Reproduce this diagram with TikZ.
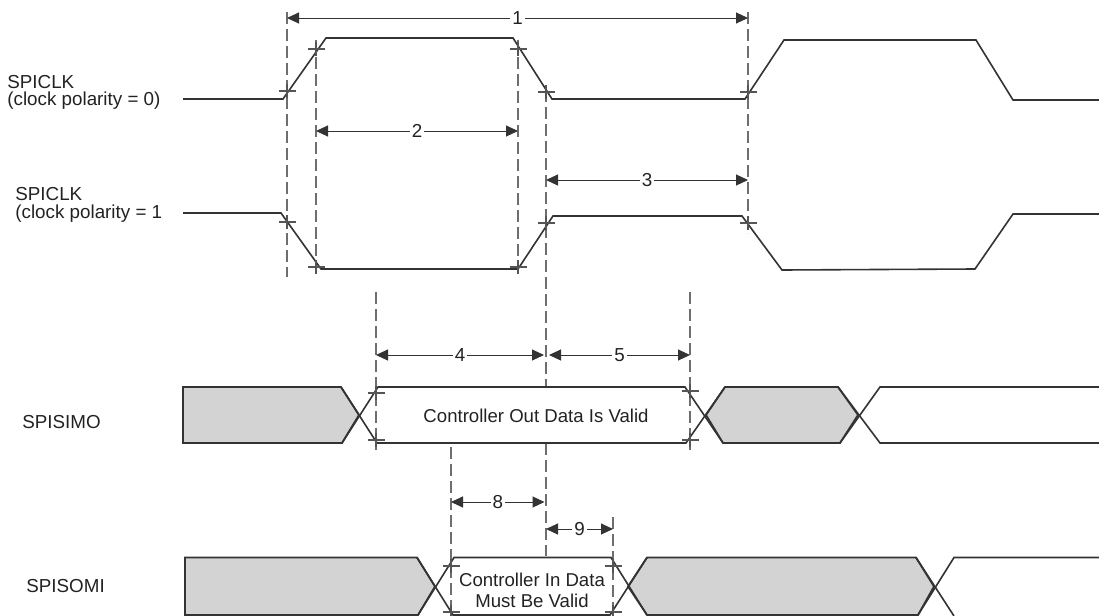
\documentclass[tikz,border=0pt]{standalone}
\usepackage{fontspec}
\setmainfont{Liberation Sans}
\usetikzlibrary{arrows.meta}
\definecolor{wavec}{HTML}{333333}
\definecolor{guidec}{HTML}{6E6E6E}
\definecolor{tickc}{HTML}{555555}
\definecolor{blockfill}{HTML}{D3D3D3}
\definecolor{textc}{HTML}{222222}
\tikzset{
  wave/.style={draw=wavec, line width=0.8pt, line join=miter},
  blk/.style={fill=blockfill, draw=wavec, line width=0.9pt, line join=miter},
  guide/.style={draw=guidec, line width=0.6pt, dash pattern=on 6pt off 2.5pt},
  dimline/.style={draw=wavec, line width=0.5pt, {Triangle[length=6pt,width=5.5pt]}-{Triangle[length=6pt,width=5.5pt]}},
  dimlbl/.style={fill=white, inner sep=1pt, font=\fontsize{9.4}{10}\selectfont, text=textc},
  sig/.style={font=\fontsize{9.4}{10}\selectfont, text=textc, inner sep=0pt, anchor=base west},
  wintext/.style={font=\fontsize{9.3}{10}\selectfont, text=textc, inner sep=0pt, anchor=base},
  tickmark/.style={draw=tickc, line width=0.55pt},
  crs/.pic={\draw[tickmark] (-8.5,0) -- (8.5,0) (0,-7) -- (0,7);}
}
\begin{document}
\begin{tikzpicture}[x=0.5pt,y=-0.5pt]
\useasboundingbox (0,0) rectangle (1099,616);

% ---------- signal labels ----------
\node[sig] (clk0a) at (7,88.3) {SPICLK};
\node[sig] (clk0b) at (7,105.5) {(clock polarity = 0)};
\node[sig] (clk1a) at (15,200) {SPICLK};
\node[sig] (clk1b) at (15,218) {(clock polarity = 1};
\node[sig] (simo) at (22,428) {SPISIMO};
\node[sig] (somi) at (26,592) {SPISOMI};

% ---------- gray data blocks ----------
\draw[blk] (183,387) -- (341,387) -- (359,415) -- (342,443) -- (183,443) -- cycle;
\draw[blk] (725,387) -- (838,387) -- (858,415) -- (840,443) -- (723,443) -- (706,415) -- cycle;
\draw[blk] (185,557.5) -- (417,557.5) -- (435,586.5) -- (418,615) -- (185,615) -- cycle;
\draw[blk] (647,557.5) -- (916,557.5) -- (934,586.5) -- (918,615) -- (647,615) -- (628,586.5) -- cycle;

% ---------- guide lines ----------
\draw[guide] (287,12) -- (287,277);
\draw[guide] (316,40) -- (316,277);
\draw[guide] (518,40) -- (518,277);
\draw[guide] (546,90) -- (546,387);
\draw[guide] (546,443) -- (546,556);
\draw[guide] (748,12) -- (748,233);
\draw[guide] (376,292) -- (376,450);
\draw[guide] (690,292) -- (690,450);
\draw[guide] (451,447) -- (451,616);
\draw[guide] (613,517) -- (613,616);

% ---------- clock waveforms ----------
\draw[wave] (183,99) -- (283,99) -- (326,38) -- (513,38) -- (552,99) -- (745,99) -- (784,40) -- (976,40) -- (1013,100) -- (1099,100);
\draw[wave] (183,213) -- (281,213) -- (321,269) -- (518,269) -- (553,216) -- (742,216) -- (782,270) -- (975,269) -- (1013,214) -- (1099,214);

% ---------- SPISIMO ----------
\draw[wave] (341,387) -- (377,443) -- (686,443) -- (725,387);
\draw[wave] (342,443) -- (378,387) -- (685,387) -- (723,443);
\draw[wave] (838,387) -- (880,443) -- (1099,443);
\draw[wave] (840,443) -- (880,387) -- (1099,387);

% ---------- SPISOMI ----------
\draw[wave] (417,557.5) -- (453,615) -- (610,615) -- (647,557.5);
\draw[wave] (418,615) -- (454,557.5) -- (611,557.5) -- (647,615);
\draw[wave] (916,557.5) -- (954,616);
\draw[wave] (918,615) -- (954,557.5) -- (1099,557.5);

% ---------- crossing marks ----------
\foreach \p in {(287,91),(316,49),(518,49),(546,92),(748,92),
                (287,222),(316,267),(518,267),(546,223),(748,223),
                (376,393),(376,440),(690,391),(690,440),
                (451,566),(451,612),(613,566),(613,612)}
  \pic at \p {crs};

% ---------- dimension arrows ----------
\coordinate (d1a) at (287,18);  \coordinate (d1b) at (748,18);
\coordinate (d2a) at (316,131); \coordinate (d2b) at (518,131);
\coordinate (d3a) at (546,180); \coordinate (d3b) at (748,180);
\coordinate (d4a) at (376,355); \coordinate (d4b) at (544,355);
\coordinate (d5a) at (549,355); \coordinate (d5b) at (690,355);
\coordinate (d8a) at (451,502); \coordinate (d8b) at (544.5,502);
\coordinate (d9a) at (546,529); \coordinate (d9b) at (613,529);
\draw[dimline] (d1a) -- node[dimlbl] (l1) {1} (d1b);
\draw[dimline] (d2a) -- node[dimlbl] (l2) {2} (d2b);
\draw[dimline] (d3a) -- node[dimlbl] (l3) {3} (d3b);
\draw[dimline] (d4a) -- node[dimlbl] (l4) {4} (d4b);
\draw[dimline] (d5a) -- node[dimlbl] (l5) {5} (d5b);
\draw[dimline] (d8a) -- node[dimlbl] (l8) {8} (d8b);
\draw[dimline] (d9a) -- node[dimlbl] (l9) {9} (d9b);

% ---------- window texts ----------
\node[wintext] (cout) at (536,422.5) {Controller Out Data Is Valid};
\node[wintext] (cin1) at (532,586.7) {Controller In Data};
\node[wintext] (cin2) at (532,607) {Must Be Valid};
\end{tikzpicture}
\end{document}
